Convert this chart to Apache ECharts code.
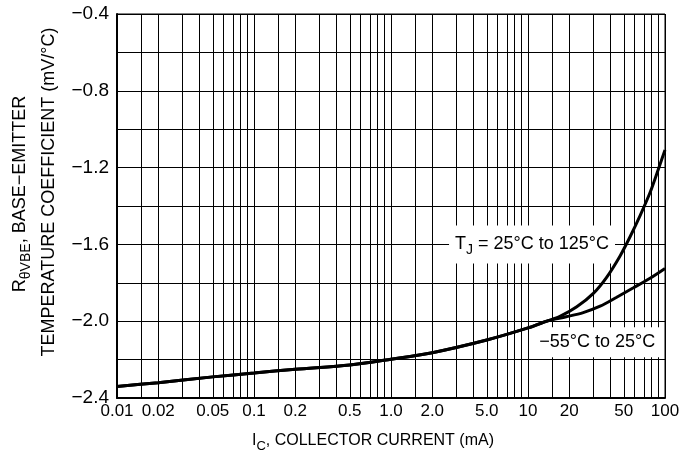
<!DOCTYPE html>
<html>
<head>
<meta charset="utf-8">
<script src="https://cdn.jsdelivr.net/npm/echarts@6/dist/echarts.min.js"></script>
<style>
html,body{margin:0;padding:0;background:#fff;}
#c{width:697px;height:466px;}
</style>
</head>
<body>
<div id="c"></div>
<script>
// Shared part of both curves (mA, mV/°C)
const sharedI = [0.01, 0.02, 0.05, 0.1, 0.2, 0.5, 1.0, 2.0, 5.0, 10, 13.7];
const sharedV = [-2.34, -2.32, -2.29, -2.27, -2.25, -2.228, -2.198, -2.164, -2.098, -2.035, -2.0];
// TJ = 25°C to 125°C tail
const hotI = [17.1, 22.7, 30, 37.6, 47, 55.6, 65.8, 77.8, 89.3, 100];
const hotV = [-1.975, -1.925, -1.855, -1.77, -1.66, -1.56, -1.45, -1.33, -1.21, -1.108];
// -55°C to 25°C tail
const coldI = [19, 25.3, 33.6, 44.4, 58.8, 77.8, 100];
const coldV = [-1.977, -1.955, -1.922, -1.875, -1.826, -1.776, -1.725];

const xTickValues = [0.01, 0.02, 0.05, 0.1, 0.2, 0.5, 1, 2, 5, 10, 20, 50, 100];
const xTickLabels = ['0.01', '0.02', '0.05', '0.1', '0.2', '0.5', '1.0', '2.0', '5.0', '10', '20', '50', '100'];
const gridMantissas = [1, 1.5, 2, 3, 4, 5, 6, 7, 8, 9];
const decades = [0.01, 0.1, 1, 10];

const xGridValues = [];
decades.forEach(d => gridMantissas.forEach(m => xGridValues.push(+(d * m).toPrecision(6))));
xGridValues.push(100);

function pairs(xs, ys) { return xs.map((x, i) => [x, ys[i]]); }
const hotData = pairs(sharedI, sharedV).concat(pairs(hotI, hotV));
const coldData = pairs(sharedI, sharedV).concat(pairs(coldI, coldV));

const FONT = 'Liberation Sans, Arial, sans-serif';

function xLabel(v) {
  for (let i = 0; i < xTickValues.length; i++) {
    if (Math.abs(Math.log10(v) - Math.log10(xTickValues[i])) < 1e-6) return xTickLabels[i];
  }
  return '';
}

const chart = echarts.init(document.getElementById('c'), null, {renderer: 'canvas'});
chart.setOption({
  animation: false,
  backgroundColor: '#fff',
  grid: {left: 117, right: 32, top: 14, bottom: 68, show: true, borderColor: '#000', borderWidth: 1},
  xAxis: {
    type: 'log', logBase: 10, min: 0.01, max: 100,
    axisLine: {show: true, lineStyle: {color: '#000', width: 2}},
    axisTick: {show: false, customValues: xGridValues},
    axisLabel: {customValues: xTickValues, formatter: xLabel, color: '#000', fontFamily: FONT, fontSize: 17, margin: 5},
    splitLine: {show: true, lineStyle: {color: '#000', width: 1}},
    minorSplitLine: {show: false}
  },
  yAxis: {
    type: 'value', min: -2.4, max: -0.4, interval: 0.4,
    axisLine: {show: true, lineStyle: {color: '#000', width: 2}},
    axisTick: {show: false},
    axisLabel: {color: '#000', fontFamily: FONT, fontSize: 19, margin: 8,
      formatter: v => (v < 0 ? '\u2212' : '') + Math.abs(v).toFixed(1)},
    splitLine: {show: true, lineStyle: {color: '#000', width: 1}},
    minorTick: {show: false, splitNumber: 2},
    minorSplitLine: {show: true, lineStyle: {color: '#000', width: 1}}
  },
  series: [
    {
      type: 'line', data: hotData, smooth: 0.3, showSymbol: false, silent: true,
      lineStyle: {color: '#000', width: 3}, z: 5,
      markPoint: {
        symbol: 'rect', symbolSize: 1, itemStyle: {color: 'rgba(0,0,0,0)'}, silent: true,
        label: {
          show: true, position: 'inside', backgroundColor: '#fff', padding: [6, 6, 6, 6],
          formatter: '{a|T}{s|J}{a| = 25°C to 125°C}',
          rich: {
            a: {fontFamily: FONT, fontSize: 18, color: '#000'},
            s: {fontFamily: FONT, fontSize: 14, color: '#000', padding: [12, 0, 0, 0]}
          }
        },
        data: [{coord: [10.7, -1.6]}]
      }
    },
    {
      type: 'line', data: coldData, smooth: 0.3, showSymbol: false, silent: true,
      lineStyle: {color: '#000', width: 3}, z: 5,
      markPoint: {
        symbol: 'rect', symbolSize: 1, itemStyle: {color: 'rgba(0,0,0,0)'}, silent: true,
        label: {
          show: true, position: 'inside', backgroundColor: '#fff', padding: [6, 6, 6, 6],
          formatter: '\u221255°C to 25°C',
          fontFamily: FONT, fontSize: 18, color: '#000'
        },
        data: [{coord: [32, -2.11]}]
      }
    }
  ],
  graphic: [
    {
      type: 'text', x: 373, y: 441, silent: true,
      style: {
        text: '{a|I}{s|C}{a|, COLLECTOR CURRENT (mA)}', align: 'center', verticalAlign: 'middle',
        rich: {
          a: {fontFamily: FONT, fontSize: 16, fill: '#000'},
          s: {fontFamily: FONT, fontSize: 13, fill: '#000', padding: [10, 0, 0, 0]}
        }
      }
    },
    {
      type: 'text', x: 20, y: 194, rotation: Math.PI / 2, silent: true,
      style: {
        text: '{a|R}{s|θVBE}{a|, BASE\u2212EMITTER}', align: 'center', verticalAlign: 'middle',
        rich: {
          a: {fontFamily: FONT, fontSize: 18, fill: '#000'},
          s: {fontFamily: FONT, fontSize: 14, fill: '#000', padding: [12, 0, 0, 0]}
        }
      }
    },
    {
      type: 'text', x: 49, y: 192, rotation: Math.PI / 2, silent: true,
      style: {
        text: 'TEMPERATURE COEFFICIENT (mV/°C)', align: 'center', verticalAlign: 'middle',
        fontFamily: FONT, fontSize: 18, fill: '#000'
      }
    }
  ]
});
</script>
</body>
</html>
